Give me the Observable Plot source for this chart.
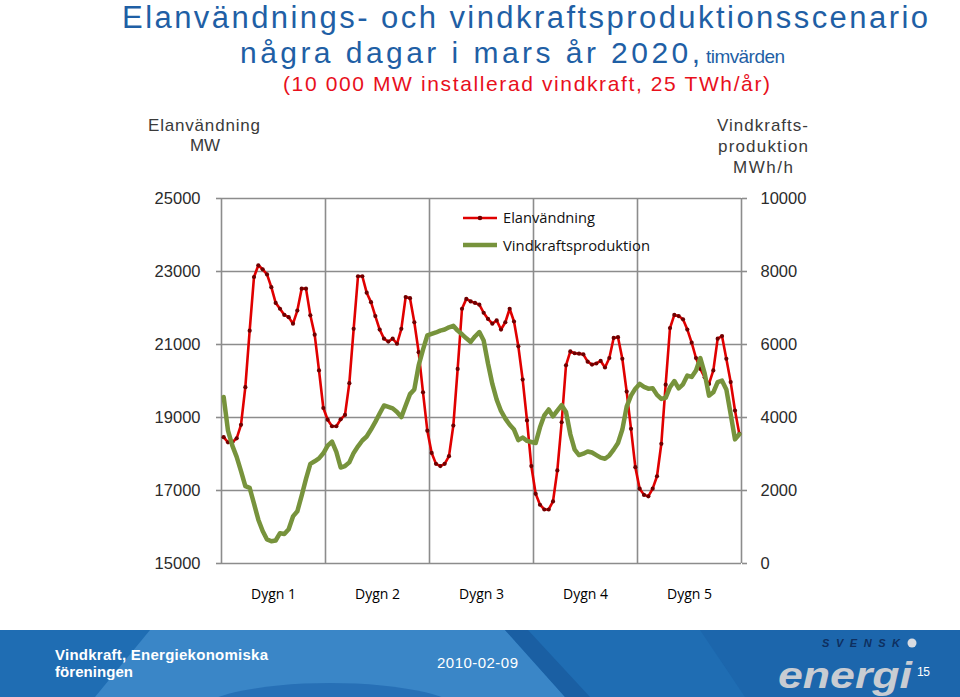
<!DOCTYPE html>
<html><head><meta charset="utf-8">
<script src="https://cdn.jsdelivr.net/npm/d3@7"></script>
<script src="https://cdn.jsdelivr.net/npm/@observablehq/plot@0.6"></script>
<style>
body{margin:0;background:#fff;}
#wrap{position:relative;width:960px;height:697px;overflow:hidden;font-family:"Liberation Sans",Arial,sans-serif;}
#wrap > svg{position:absolute;left:0;top:0;}
</style></head><body><div id="wrap"></div>
<script>
// ---- data ----
const dayLabels = ["Dygn 1","Dygn 2","Dygn 3","Dygn 4","Dygn 5"];
const leftTicks = [15000,17000,19000,21000,23000,25000];
const rightTicks = [0,2000,4000,6000,8000,10000];
const hoursPerDay = 24;
const elanvandning = [
18460,18320,18320,18430,18800,19830,21380,22850,23170,23060,22920,22570,22140,21980,21810,21750,21570,21930,22530,22530,21800,21270,20290,19260,
18940,18760,18760,18950,19070,19940,21430,22870,22870,22420,22160,21780,21410,21160,21080,21160,21020,21430,22300,22270,21610,20790,19690,18640,
18030,17730,17670,17730,17940,18780,20330,21980,22250,22180,22140,22090,21870,21700,21570,21660,21410,21610,21980,21630,20950,20040,18920,17670,
16910,16610,16480,16480,16700,17550,18870,20430,20810,20760,20750,20730,20530,20450,20480,20550,20370,20630,21180,21200,20610,19710,18690,17640,
17050,16880,16840,17050,17390,18280,19900,21450,21810,21780,21690,21410,21050,20630,20330,20100,19920,20290,21160,21230,20610,19970,19190,18550];
const vindkraft = [
4560,3640,3230,2920,2530,2120,2070,1640,1200,890,660,610,630,830,810,940,1290,1430,1860,2320,2730,2800,2880,3020,
3230,3340,3060,2630,2670,2770,3030,3210,3370,3480,3670,3880,4110,4330,4290,4250,4150,4010,4330,4640,4770,5430,5860,6250,
6290,6330,6380,6410,6470,6510,6380,6280,6170,6070,6220,6340,6110,5480,4920,4490,4180,3970,3800,3670,3380,3450,3360,3330,
3300,3730,4060,4220,4030,4190,4340,4150,3540,3120,2970,3010,3070,3040,2970,2900,2870,2960,3120,3300,3670,4300,4600,4790,
4920,4840,4790,4800,4620,4510,4540,4830,5000,4800,4910,5150,5110,5290,5630,5210,4600,4690,4970,5010,4770,4090,3400,3540];

// right axis (MWh/h) drawn onto the left (MW) scale
const leftDomain = [leftTicks[0], leftTicks[leftTicks.length-1]];
const rightDomain = [rightTicks[0], rightTicks[rightTicks.length-1]];
const r2l = d3.scaleLinear(rightDomain, leftDomain);
const l2r = r2l.invert;

const nHours = elanvandning.length;
const data = elanvandning.map((v,i)=>({h:i+0.5, elan:v, wind:r2l(vindkraft[i])}));
const dayBounds = d3.range(0, dayLabels.length+1).map(d=>d*hoursPerDay);
const dayCenters = dayLabels.map((d,i)=>i*hoursPerDay+hoursPerDay/2);

const GRID = "#8c8c8c", TXT = "#2b2b2b";
const chart = Plot.plot({
  width:960, height:620,
  marginLeft:221, marginRight:219, marginTop:198, marginBottom:57,
  style:{fontFamily:"'Liberation Sans',Arial,sans-serif", fontSize:"17px", background:"transparent"},
  x:{domain:[0,nHours]},
  y:{domain:leftDomain},
  marks:[
    Plot.ruleY(leftTicks,{stroke:GRID, strokeWidth:1.6}),
    Plot.ruleX(dayBounds,{stroke:GRID, strokeWidth:1.6}),
    Plot.axisY({ticks:leftTicks, anchor:"left", tickSize:5, tickPadding:16, label:null,
      tickFormat:d=>String(d), stroke:GRID, strokeWidth:1.6, fill:TXT, fontSize:16.5}),
    Plot.axisY({ticks:leftTicks, anchor:"right", tickSize:5, tickPadding:14, label:null,
      tickFormat:d=>String(Math.round(l2r(d))), stroke:GRID, strokeWidth:1.6, fill:TXT, fontSize:16.5}),
    Plot.axisX({ticks:dayCenters, tickSize:0, tickPadding:26, label:null,
      tickFormat:(d,i)=>dayLabels[i], fill:"#000", fontSize:14, fontFamily:"'Open Sans',sans-serif"}),
    Plot.line(data,{x:"h", y:"elan", stroke:"#e00000", strokeWidth:2.6}),
    Plot.dot(data,{x:"h", y:"elan", r:2.1, fill:"#700000", stroke:"none"}),
    Plot.line(data,{x:"h", y:"wind", stroke:"#77933c", strokeWidth:4.5, strokeLinejoin:"round"})
  ]
});
document.getElementById("wrap").appendChild(chart);

// ---- overlay: titles, axis titles, legend, footer ----
const ov = d3.select("#wrap").append("svg").attr("width",960).attr("height",697)
  .style("pointer-events","none");
const NARROW = "'Liberation Sans Narrow','Arial Narrow','Liberation Sans',Arial,sans-serif";
function txt(s,x,y,size,fill,len,extra={}){
  const t = ov.append("text").attr("x",x).attr("y",y).attr("font-size",size).attr("fill",fill)
    .attr("font-family",extra.family||NARROW).text(s);
  if(len){t.attr("textLength",len).attr("lengthAdjust",extra.adjust||"spacing");}
  if(extra.weight) t.attr("font-weight",extra.weight);
  if(extra.style) t.attr("font-style",extra.style);
  return t;
}
const BLUE="#1f5fa5";
txt("Elanvändnings- och vindkraftsproduktionsscenario",122,28,31,BLUE,806);
txt("några dagar i mars år 2020,",240,63,30,BLUE,460);
txt("timvärden",706,63,19,BLUE,79);
txt("(10 000 MW installerad vindkraft, 25 TWh/år)",283,91,21,"#e8101c",487);

txt("Elanvändning",148,131,17,"#3a3a3a",112);
txt("MW",190,151,17,"#3a3a3a",30);
txt("Vindkrafts-",717,131,17,"#3a3a3a",91);
txt("produktion",718,152,17,"#3a3a3a",90);
txt("MWh/h",733,173,17,"#3a3a3a",60);

// legend
ov.append("line").attr("x1",463).attr("x2",497).attr("y1",218).attr("y2",218).attr("stroke","#e00000").attr("stroke-width",2.6);
ov.append("circle").attr("cx",480).attr("cy",218).attr("r",2.3).attr("fill","#700000");
ov.append("line").attr("x1",463).attr("x2",497).attr("y1",245).attr("y2",245).attr("stroke","#77933c").attr("stroke-width",4.5);
txt("Elanvändning",503,223,14.5,"#111",92,{family:"'Open Sans',sans-serif",adjust:"spacingAndGlyphs"});
txt("Vindkraftsproduktion",503,251,14.5,"#111",147,{family:"'Open Sans',sans-serif",adjust:"spacingAndGlyphs"});

// footer
const f = ov.append("g");
f.append("rect").attr("x",0).attr("y",630).attr("width",960).attr("height",67).attr("fill","#1f6db3");
f.append("polygon").attr("points","95,697 150,630 505,630 565,697").attr("fill","#3a86c7");
f.append("polygon").attr("points","505,630 528,630 590,697 565,697").attr("fill","#1a5fa3");
f.append("polygon").attr("points","700,630 960,630 960,697 745,697").attr("fill","#1c66ac");
f.append("ellipse").attr("cx",330).attr("cy",715).attr("rx",135).attr("ry",32).attr("fill","#2770b6");
txt("Vindkraft, Energiekonomiska",55,660,15,"#fff",213,{weight:"bold"});
txt("föreningen",55,677,15,"#fff",78,{weight:"bold"});
txt("2010-02-09",437,668,15,"#fff",81);
txt("SVENSK",822,647,11,"#0e2f5f",78,{weight:"bold",style:"italic"});
f.append("circle").attr("cx",912).attr("cy",643).attr("r",4.5).attr("fill","#d8dce2");
txt("energi",778,688,37,"#c8ccd2",134,{weight:"bold",style:"italic",adjust:"spacingAndGlyphs"});
txt("15",917,676,12,"#fff",13);
</script></body></html>
